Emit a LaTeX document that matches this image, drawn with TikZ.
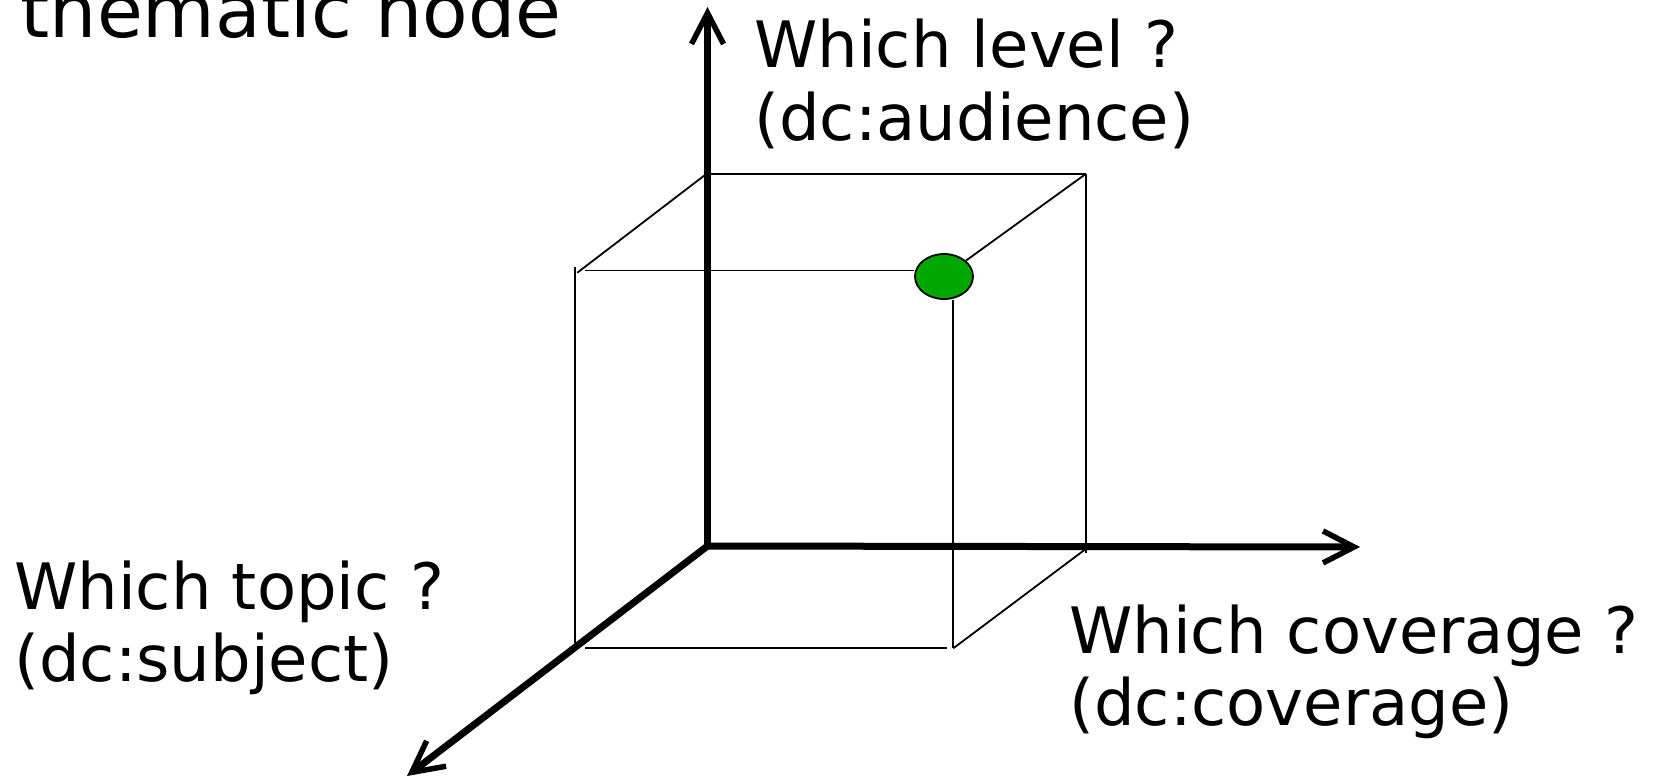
\documentclass[tikz,border=0pt]{standalone}
\usepackage{fontspec}
\setmainfont{DejaVu Sans}
\usetikzlibrary{arrows.meta,shapes.geometric}
\definecolor{dotgreen}{RGB}{0,168,0}
\begin{document}
\begin{tikzpicture}[x=1pt,y=-1pt,
  axis/.style={line width=7pt,-{Straight Barb[length=31pt,width=32pt,line width=5.5pt,line join=miter,line cap=butt]}},
  edge/.style={line width=1.8pt},
  lbl/.style={anchor=base west,inner sep=0pt,align=left,font=\fontsize{64}{72.5}\selectfont},
  ttl/.style={anchor=base west,inner sep=0pt,font=\fontsize{74.5}{88}\selectfont}]
\useasboundingbox (0,0) rectangle (1656,777);
\clip (0,0) rectangle (1656,777);
% axes
\coordinate (O) at (707.5,546);
\coordinate (Ztip) at (707.5,7);
\coordinate (Xtip) at (1360,547);
\coordinate (Ytip) at (407,776);
\draw[axis] (O) -- (Ztip);
\draw[axis] (O) -- (Xtip);
\draw[axis] (O) -- (Ytip);
% cube corners
\coordinate (bt1) at (710.7,174);
\coordinate (bt2) at (1085.7,174);
\coordinate (d1a) at (705,175);
\coordinate (d1b) at (577.3,272.7);
\coordinate (ft1) at (585,270.5);
\coordinate (fl1) at (575,267);
\coordinate (fl2) at (575,643);
\coordinate (fb1) at (585,648.3);
\coordinate (fb2) at (946.7,648.3);
\coordinate (fr2) at (953.3,648.3);
\coordinate (br2) at (1085.7,549);
\coordinate (bv2) at (1085.7,553);
% green point
\node[ellipse,draw,line width=1.8pt,fill=dotgreen,minimum width=58pt,minimum height=45pt,inner sep=0pt] (P) at (944,276.5) {};
\draw[edge] (bt1) -- (bt2);
\draw[edge] (d1a) -- (d1b);
\draw[edge] (bt2) -- (P);
\draw[edge] (ft1) -- (P.west |- ft1);
\draw[edge] (fl1) -- (fl2);
\draw[edge] (P.south -| fr2) -- (fr2);
\draw[edge] (fb1) -- (fb2);
\draw[edge] (fr2) -- (br2);
\draw[edge] (bt2) -- (bv2);
% labels
\node[ttl] (title) at (20.5,37) {thematic node};
\node[lbl] (zl) at (754,140) {Which level ?\\(dc:audience)};
\node[lbl] (yl) at (14,681.5) {Which topic ?\\(dc:subject)};
\node[lbl] (xl) at (1069,725.5) {Which coverage ?\\(dc:coverage)};
\end{tikzpicture}
\end{document}
